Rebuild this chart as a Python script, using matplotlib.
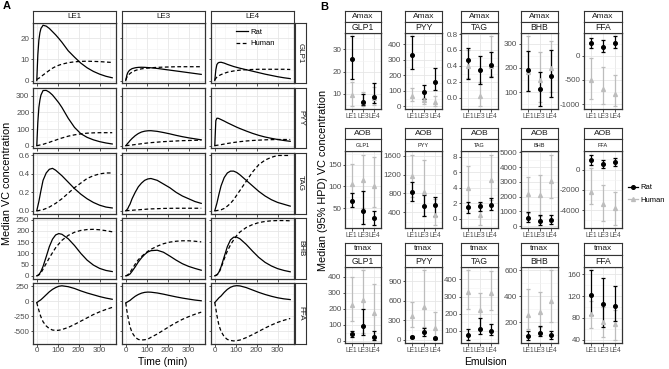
import matplotlib.pyplot as plt
import numpy as np
from matplotlib.lines import Line2D
from matplotlib.ticker import AutoMinorLocator

plt.rcParams['font.family'] = ['Liberation Sans', 'DejaVu Sans']
plt.rcParams['axes.unicode_minus'] = False

# ---------------- data: panel A (median VC curves) ----------------
emulsions = ['LE1', 'LE3', 'LE4']
analytes = ['GLP1', 'PYY', 'TAG', 'BHB', 'FFA']
time = [0, 5, 10, 15, 20, 30, 45, 60, 75, 90, 105, 120, 150, 180, 210, 240, 270, 300, 330, 360]

glp1_rat = [[0, 12, 19, 22.5, 24.5, 26, 25.6, 24.5, 23, 21.5, 19.8, 18, 14, 11, 8.2, 6, 4.3, 3, 2, 1.3],
            [0, 2.5, 3.8, 4.5, 5, 5.6, 6, 6.2, 6.25, 6.2, 6.1, 6, 5.7, 5.3, 4.9, 4.5, 4.1, 3.7, 3.3, 2.9],
            [0, 5, 7.5, 8.2, 8.5, 8.6, 8.2, 7.6, 7.1, 6.6, 6.2, 5.8, 5.1, 4.4, 3.7, 3.0, 2.4, 1.8, 1.3, 0.9]]
glp1_hum = [[0.5, 0.8, 1.1, 1.4, 1.8, 2.6, 3.7, 4.8, 5.8, 6.6, 7.2, 7.7, 8.4, 8.8, 9.0, 9.1, 9.0, 8.9, 8.7, 8.5],
            [0.3, 1.5, 2.3, 2.8, 3.3, 4.0, 4.7, 5.2, 5.5, 5.7, 5.85, 6.0, 6.2, 6.3, 6.4, 6.5, 6.5, 6.5, 6.5, 6.5],
            [0.3, 1, 1.6, 2.0, 2.3, 2.8, 3.4, 3.9, 4.2, 4.5, 4.7, 4.9, 5.1, 5.2, 5.3, 5.3, 5.3, 5.3, 5.3, 5.2]]
pyy_rat = [[0, 140, 230, 275, 305, 332, 333, 322, 305, 282, 258, 230, 165, 110, 72, 50, 35, 24, 16, 10],
           [0, 7, 15, 22, 30, 43, 60, 73, 82, 87, 89.5, 90, 86, 79, 71, 62, 54, 47, 41, 35],
           [0, 150, 165, 165, 163, 157, 148, 138, 129, 120, 111, 103, 88, 74, 62, 52, 44, 37, 31, 26]]
pyy_hum = [[0, 1, 2, 4, 5, 8, 14, 20, 27, 33, 40, 46, 57, 65, 71, 75, 77, 78, 78, 78],
           [0, 0.5, 1.2, 2, 2.8, 4, 6.5, 9, 11.5, 14, 16, 18, 21, 24, 26, 28, 30, 31, 32, 33],
           [0, 1, 2, 3, 4, 6, 9.5, 13, 16, 19, 21.5, 24, 28, 31, 33, 35, 36, 37, 37, 37]]
tag_rat = [[0, 0.05, 0.1, 0.16, 0.22, 0.33, 0.41, 0.45, 0.46, 0.44, 0.41, 0.38, 0.31, 0.24, 0.18, 0.13, 0.09, 0.06, 0.04, 0.03],
           [0, 0.01, 0.025, 0.05, 0.07, 0.13, 0.2, 0.26, 0.3, 0.33, 0.345, 0.35, 0.33, 0.29, 0.25, 0.2, 0.16, 0.13, 0.1, 0.08],
           [0, 0.04, 0.08, 0.13, 0.18, 0.27, 0.36, 0.41, 0.43, 0.43, 0.415, 0.39, 0.33, 0.27, 0.21, 0.16, 0.12, 0.09, 0.07, 0.05]]
tag_hum = [[0, 0, 0.002, 0.005, 0.008, 0.012, 0.025, 0.04, 0.06, 0.08, 0.105, 0.13, 0.19, 0.25, 0.30, 0.35, 0.38, 0.40, 0.41, 0.41],
           [0, 0.001, 0.002, 0.003, 0.004, 0.005, 0.008, 0.01, 0.013, 0.015, 0.018, 0.02, 0.022, 0.025, 0.026, 0.027, 0.027, 0.027, 0.027, 0.027],
           [0, 0, 0.002, 0.004, 0.006, 0.01, 0.025, 0.05, 0.08, 0.12, 0.17, 0.22, 0.32, 0.42, 0.5, 0.55, 0.58, 0.6, 0.6, 0.6]]
bhb_rat = [[0, 2, 6, 12, 20, 42, 85, 130, 163, 182, 188, 185, 165, 135, 100, 70, 48, 33, 24, 19],
           [0, 1, 2, 5, 8, 20, 40, 62, 80, 95, 106, 112, 114, 105, 88, 70, 54, 42, 33, 25],
           [0, 2, 5, 10, 17, 40, 85, 130, 160, 172, 172, 165, 140, 110, 82, 60, 44, 32, 24, 18]]
bhb_hum = [[0, 2, 4, 8, 13, 30, 55, 80, 103, 125, 142, 158, 180, 194, 202, 206, 207, 205, 201, 196],
           [0, 2, 5, 10, 15, 30, 52, 72, 86, 98, 109, 118, 132, 143, 150, 154, 156, 156, 154, 151],
           [0, 2, 4, 8, 14, 35, 75, 110, 138, 160, 180, 195, 215, 228, 237, 242, 245, 246, 246, 245]]
ffa_rat = [[-20, -8, 5, 15, 28, 60, 110, 160, 200, 230, 252, 260, 245, 215, 175, 140, 110, 80, 55, 35],
           [-25, -15, -5, 5, 15, 45, 85, 115, 137, 150, 155, 153, 140, 120, 97, 75, 55, 38, 22, 10],
           [-20, 0, 20, 40, 60, 90, 150, 200, 235, 255, 262, 258, 230, 190, 150, 115, 85, 60, 42, 30]]
ffa_hum = [[-20, -90, -150, -210, -260, -340, -410, -455, -478, -485, -482, -470, -435, -385, -330, -275, -220, -175, -135, -100],
           [-25, -150, -250, -340, -420, -520, -600, -635, -645, -640, -630, -600, -545, -480, -415, -355, -300, -255, -215, -180],
           [-20, -120, -230, -320, -400, -500, -590, -635, -652, -660, -655, -645, -605, -555, -500, -445, -395, -350, -315, -285]]

a_yticks = [[0, 10, 20], [0, 100, 200, 300], [0, 0.2, 0.4, 0.6],
            [0, 50, 100, 150, 200, 250], [-500, -250, 0, 250]]

# ---------------- data: panel B (median and 95% HPD) ----------------
# rows: GLP1, PYY, TAG, BHB, FFA ; columns: LE1, LE3, LE4
amax_rat_med = [[25.5, 6.5, 8.8], [333, 90, 155], [0.47, 0.35, 0.41], [190, 112, 167], [256, 173, 271]]
amax_rat_lo = [[16.5, 5, 5.8], [241, 50, 108], [0.24, 0.17, 0.26], [105, 45, 80], [152, 83, 152]]
amax_rat_hi = [[35.8, 10, 14.9], [449, 135, 245], [0.63, 0.52, 0.57], [270, 185, 275], [360, 325, 396]]
amax_hum_med = [[9.5, 6.5, 8], [67, 40, 30], [0.40, 0.02, 0.40], [185, 150, 200], [-494, -681, -785]]
amax_hum_lo = [[4.8, 4.8, 5.2], [37, 16, 6], [0.25, -0.1, 0.27], [105, 60, 100], [-890, -994, -1029]]
amax_hum_hi = [[15.5, 11, 13], [118, 57, 67], [0.60, 0.2, 0.77], [330, 265, 310], [-56, -229, -404]]

aob_rat_med = [[66, 45, 27], [835, 525, 560], [1.45, 1.67, 1.8], [555, 380, 445], [950, 540, 760]]
aob_rat_lo = [[52, 15, 13], [650, 330, 330], [0.73, 0.94, 1.15], [290, 110, 160], [450, 130, 380]]
aob_rat_hi = [[84, 90, 45], [1040, 765, 730], [2.2, 2.2, 2.65], [990, 775, 775], [1490, 950, 1170]]
aob_hum_med = [[106, 115, 100], [1180, 835, 350], [4.0, 0.51, 5.0], [2210, 2100, 3090], [-2160, -3360, -3810]]
aob_hum_lo = [[84, 50, 52], [730, 330, 140], [1.36, -0.77, 2.4], [890, 660, 1890], [-3360, -5020, -5400]]
aob_hum_hi = [[152, 173, 167], [1630, 1520, 680], [6.8, 2.0, 8.3], [3310, 3470, 4860], [130, -1520, -2220]]

tmax_rat_med = [[42, 94, 22], [40, 111, 20], [73, 110, 96], [94, 118, 101], [121, 105, 101]]
tmax_rat_lo = [[25, 37, 6], [30, 60, 10], [49, 82, 73], [67, 94, 75], [86, 63, 75]]
tmax_rat_hi = [[60, 195, 57], [55, 177, 30], [110, 176, 138], [136, 168, 130], [167, 153, 138]]
tmax_hum_med = [[220, 255, 173], [364, 505, 177], [325, 220, 318], [258, 283, 362], [87, 72, 68]]
tmax_hum_lo = [[120, 47, 17], [200, 200, 0], [225, 110, 220], [147, 160, 200], [62, 45, 40]]
tmax_hum_hi = [[400, 440, 358], [580, 1070, 430], [452, 320, 450], [460, 430, 600], [110, 100, 95]]

metrics = ['Amax', 'AOB', 'tmax']
b_yticks = [[[10, 20, 30], [0, 100, 200, 300, 400], [0, 0.2, 0.4, 0.6, 0.8], [100, 200, 300], [-1000, -500, 0]],
            [[50, 100, 150], [400, 800, 1200, 1600], [0, 2, 4, 6, 8], [0, 1000, 2000, 3000, 4000, 5000], [-4000, -2000, 0]],
            [[0, 100, 200, 300, 400], [0, 300, 600, 900], [100, 200, 300, 400], [200, 400, 600], [40, 80, 120, 160]]]

# ---------------- figure ----------------
W, H = 669, 369
fig = plt.figure(figsize=(W / 100, H / 100), dpi=100)

DARK = '#333333'
HUMAN = '#bdbdbd'


def box(x0, y0, x1, y1, **kw):
    return fig.add_axes([x0 / W, 1 - y1 / H, (x1 - x0) / W, (y1 - y0) / H], **kw)


def strip(x0, y0, x1, y1, text, size=5.8, rot=0):
    s = box(x0, y0, x1, y1)
    s.set_xticks([])
    s.set_yticks([])
    s.set_facecolor('white')
    for sp in s.spines.values():
        sp.set_color(DARK)
        sp.set_linewidth(0.8)
    s.text(0.5, 0.5, text, ha='center', va='center', fontsize=size, rotation=rot,
           color='#1a1a1a', transform=s.transAxes)


def style(ax, size=5.5):
    ax.set_facecolor('white')
    for sp in ax.spines.values():
        sp.set_color(DARK)
        sp.set_linewidth(0.9)
    ax.yaxis.set_minor_locator(AutoMinorLocator(2))
    ax.grid(True, which='major', color='#e6e6e6', lw=0.6)
    ax.grid(True, which='minor', color='#f2f2f2', lw=0.4)
    ax.set_axisbelow(True)
    ax.tick_params(length=1.8, width=0.6, color=DARK, labelsize=size, labelcolor='#4d4d4d', pad=0.8)
    ax.tick_params(which='minor', length=0)


# ---- panel A ----
a_rat = [glp1_rat, pyy_rat, tag_rat, bhb_rat, ffa_rat]
a_hum = [glp1_hum, pyy_hum, tag_hum, bhb_hum, ffa_hum]
a_cols = [(33, 116), (122, 205), (211, 294)]
a_tops = [22.5, 87.6, 152.7, 217.8, 282.9]
a_h = 60.8

for r, an in enumerate(analytes):
    top = a_tops[r]
    first = None
    for c, em in enumerate(emulsions):
        x0, x1 = a_cols[c]
        ax = box(x0, top, x1, top + a_h, sharey=first)
        if first is None:
            first = ax
        style(ax, size=5.8)
        ax.xaxis.set_minor_locator(AutoMinorLocator(2))
        l1, = ax.plot(time, a_rat[r][c], color='black', lw=0.9, label='Rat')
        l2, = ax.plot(time, a_hum[r][c], color='black', lw=0.9, ls=(0, (3, 2)), label='Human')
        ax.set_xlim(-18, 378)
        ax.set_xticks([0, 100, 200, 300])
        ax.set_yticks(a_yticks[r])
        if c > 0:
            ax.tick_params(labelleft=False)
        if r < 4:
            ax.tick_params(labelbottom=False)
        if r == 0:
            strip(x0, 11, x1, top, em)
            if c == 2:
                ax.legend(handles=[l1, l2], loc='upper left', bbox_to_anchor=(0.24, 0.99),
                          frameon=False, fontsize=5.5, handlelength=1.5, handletextpad=0.3,
                          labelspacing=0.55, borderpad=0.2)
        if c == 2:
            strip(295, top, 306, top + a_h, an, rot=-90)

fig.text(3 / W, 1 - 6 / H, 'A', fontsize=8, fontweight='bold', ha='left', va='center')
fig.text(7 / W, 1 - 183 / H, 'Median VC concentration', rotation=90, fontsize=7.8,
         ha='center', va='center')
fig.text(163 / W, 1 - 362 / H, 'Time (min)', fontsize=7.5, ha='center', va='center')

# ---- panel B ----
b_data = [(amax_rat_med, amax_rat_lo, amax_rat_hi, amax_hum_med, amax_hum_lo, amax_hum_hi),
          (aob_rat_med, aob_rat_lo, aob_rat_hi, aob_hum_med, aob_hum_lo, aob_hum_hi),
          (tmax_rat_med, tmax_rat_lo, tmax_rat_hi, tmax_hum_med, tmax_hum_lo, tmax_hum_hi)]
b_cols = [(345, 381), (405, 442), (461, 498), (521, 558), (584, 622)]
b_rows = [(11, 33, 109), (127.5, 151, 228), (243, 267, 343)]
xs = np.arange(1, 4)

for r, m in enumerate(metrics):
    st, pt, pb = b_rows[r]
    rmed, rlo, rhi, hmed, hlo, hhi = [np.array(a, dtype=float) for a in b_data[r]]
    for c, an in enumerate(analytes):
        x0, x1 = b_cols[c]
        ax = box(x0, pt, x1, pb)
        style(ax, size=5.8)
        ax.errorbar(xs, hmed[c], yerr=[hmed[c] - hlo[c], hhi[c] - hmed[c]], fmt='^', color=HUMAN,
                    ms=2.8, capsize=1.4, elinewidth=0.9, capthick=0.9)
        ax.errorbar(xs, rmed[c], yerr=[rmed[c] - rlo[c], rhi[c] - rmed[c]], fmt='o', color='black',
                    ms=2.6, capsize=1.4, elinewidth=0.9, capthick=0.9)
        ax.set_xlim(0.4, 3.6)
        ax.set_xticks(xs, emulsions)
        ax.tick_params(axis='x', labelsize=4.8)
        ax.set_yticks(b_yticks[r][c])
        mid = (st + pt) / 2
        strip(x0, st, x1, mid, m, size=6)
        strip(x0, mid, x1, pt, an, size=4 if r == 1 else 6.2)

fig.text(320 / W, 1 - 7 / H, 'B', fontsize=8, fontweight='bold', ha='left', va='center')
fig.text(323 / W, 1 - 180 / H, 'Median (95% HPD) VC concentration', rotation=90, fontsize=7.8,
         ha='center', va='center')
fig.text(485 / W, 1 - 362 / H, 'Emulsion', fontsize=7.5, ha='center', va='center')

handles = [Line2D([], [], color='black', marker='o', ms=2.6, lw=0.9),
           Line2D([], [], color=HUMAN, marker='^', ms=2.8, lw=0.9)]
fig.legend(handles, ['Rat', 'Human'], loc='center left', bbox_to_anchor=(624 / W, 1 - 194 / H),
           frameon=False, fontsize=5.5, handlelength=1.3, handletextpad=0.3, labelspacing=0.7,
           borderpad=0)

fig.savefig('out.png', dpi=100)
